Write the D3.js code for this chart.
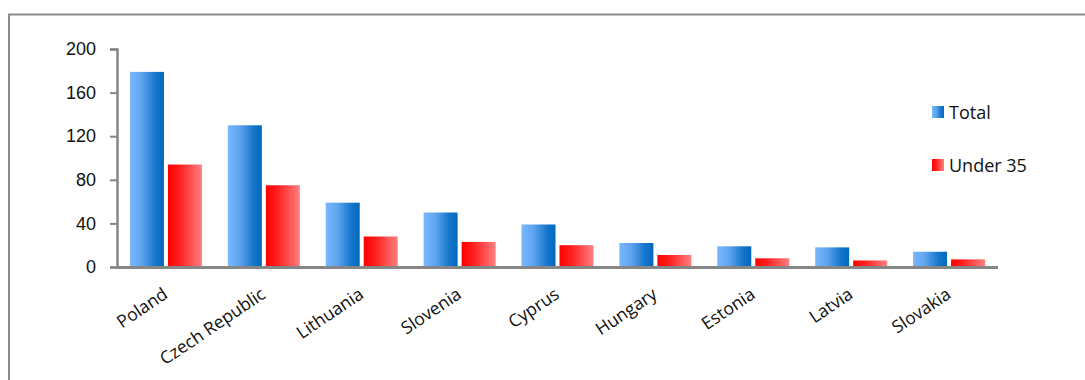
<!DOCTYPE html>
<html>
<head>
<meta charset="utf-8">
<script src="https://cdn.jsdelivr.net/npm/d3@7"></script>
<style>
  html, body { margin: 0; padding: 0; background: #fff; }
  svg { display: block; font-family: "Open Sans", "DejaVu Sans", sans-serif; }
</style>
</head>
<body>
<div id="chart"></div>
<script>
// Employees by country: total vs. under 35
const countries = ["Poland", "Czech Republic", "Lithuania", "Slovenia", "Cyprus", "Hungary", "Estonia", "Latvia", "Slovakia"];
const totalValues = [179, 130, 59, 50, 39, 22, 19, 18, 14];
const under35Values = [94, 75, 28, 23, 20, 11, 8, 6, 7];
const seriesNames = ["Total", "Under 35"];
const yTicks = [0, 40, 80, 120, 160, 200];

const W = 1085, H = 380;
const svg = d3.select("#chart").append("svg").attr("width", W).attr("height", H);

const defs = svg.append("defs");
function hGrad(id, stops) {
  const g = defs.append("linearGradient").attr("id", id)
    .attr("x1", "0%").attr("x2", "100%").attr("y1", "0%").attr("y2", "0%");
  stops.forEach(([o, c]) => g.append("stop").attr("offset", o).attr("stop-color", c));
}
hGrad("gBlue", [["0%", "#79b8ff"], ["35%", "#5ea4ef"], ["75%", "#1676cc"], ["100%", "#0068bc"]]);
hGrad("gRed", [["0%", "#ff0000"], ["35%", "#ff2020"], ["100%", "#ff8080"]]);
const fills = ["url(#gBlue)", "url(#gRed)"];

// chart frame
svg.append("rect").attr("x", 9).attr("y", 14.5).attr("width", W + 20).attr("height", H + 20)
  .attr("fill", "none").attr("stroke", "#8c8c8c").attr("stroke-width", 2);

const plot = { left: 117, right: 998, top: 49, bottom: 267 };

const x0 = d3.scaleBand().domain(countries).range([plot.left, plot.right]).paddingInner(0).paddingOuter(0);
const y = d3.scaleLinear().domain([0, 200]).range([plot.bottom, plot.top]);

const barW = 34, gap = 4;

const groups = svg.append("g").selectAll("g").data(countries).join("g")
  .attr("transform", d => `translate(${x0(d) + x0.bandwidth() / 2},0)`);

[totalValues, under35Values].forEach((vals, si) => {
  groups.append("rect")
    .attr("x", si === 0 ? -barW - gap / 2 : gap / 2)
    .attr("width", barW)
    .attr("y", (d, i) => y(vals[i]))
    .attr("height", (d, i) => y(0) - y(vals[i]))
    .attr("fill", fills[si]);
});

// y axis
const yAxis = svg.append("g").attr("transform", `translate(${plot.left},0)`)
  .call(d3.axisLeft(y).tickValues(yTicks).tickSize(7).tickPadding(14));
yAxis.select(".domain").attr("stroke", "#868686").attr("stroke-width", 2.5);
yAxis.selectAll(".tick line").attr("stroke", "#868686").attr("stroke-width", 2);
yAxis.selectAll(".tick text").attr("fill", "#111").style("font-size", "18px");

// x axis line
svg.append("line").attr("x1", plot.left).attr("x2", plot.right)
  .attr("y1", plot.bottom + 0.5).attr("y2", plot.bottom + 0.5)
  .attr("stroke", "#868686").attr("stroke-width", 3);

// category labels
svg.append("g").selectAll("text").data(countries).join("text")
  .attr("transform", d => `translate(${x0(d) + x0.bandwidth() / 2 + 3},${plot.bottom + 30}) rotate(-34)`)
  .attr("text-anchor", "end")
  .attr("fill", "#111")
  .style("font-size", "17.5px")
  .text(d => d);

// legend
const legend = svg.append("g").selectAll("g").data(seriesNames).join("g")
  .attr("transform", (d, i) => `translate(932,${106 + i * 53})`);
legend.append("rect").attr("width", 12).attr("height", 12).attr("fill", (d, i) => fills[i]);
legend.append("text").attr("x", 17).attr("y", 12.5).attr("fill", "#111")
  .style("font-size", "18px").text(d => d);
</script>
</body>
</html>
